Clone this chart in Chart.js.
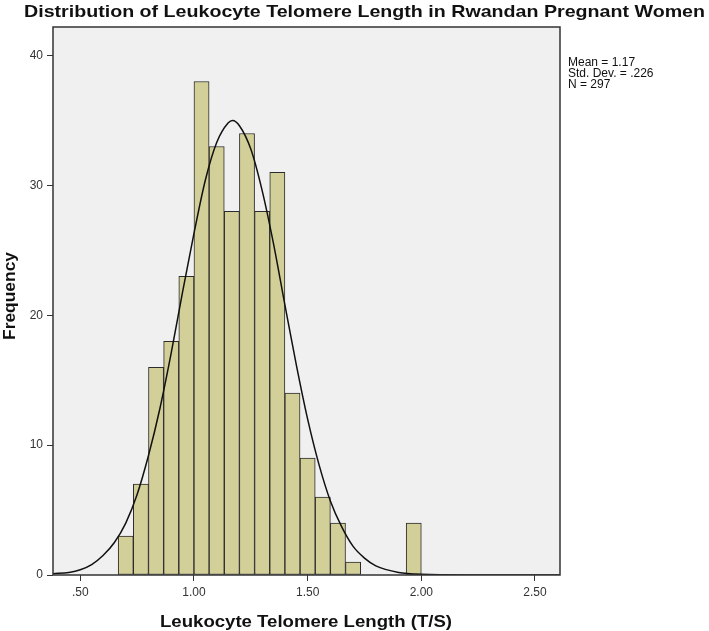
<!DOCTYPE html>
<html>
<head>
<meta charset="utf-8">
<script src="https://cdn.jsdelivr.net/npm/chart.js@4.4.1/dist/chart.umd.min.js"></script>
<style>
  html, body { margin: 0; padding: 0; background: #fff; }
</style>
</head>
<body>
<canvas id="grafik" width="709" height="631"></canvas>
<script>
// histogram bins (width 1/15), given by their centre
var binCenters = [0.7000, 0.7667, 0.8333, 0.9000, 0.9667, 1.0333, 1.1000, 1.1667, 1.2333, 1.3000,
                  1.3667, 1.4333, 1.5000, 1.5667, 1.6333, 1.7000, 1.7667, 1.8333, 1.9000, 1.9667]
var frequency = [3, 7, 16, 18, 23, 38, 33, 28, 34, 28, 31, 14, 9, 6, 4, 1, 0, 0, 0, 4]

// normal curve
var curveX = [0.38, 0.45, 0.50, 0.55, 0.60, 0.65, 0.70, 0.75, 0.80, 0.85, 0.90, 0.95, 1.00, 1.05, 1.10, 1.15, 1.17,
              1.20, 1.25, 1.30, 1.35, 1.40, 1.45, 1.50, 1.55, 1.60, 1.65, 1.70, 1.75, 1.80, 1.90, 2.00, 2.20, 2.61]
var curveY = [0.1, 0.2, 0.4, 0.8, 1.5, 2.5, 4.0, 6.2, 9.2, 12.8, 17.1, 21.8, 26.3, 30.4, 33.3, 34.8, 35.0,
              34.6, 32.8, 29.6, 25.5, 20.8, 16.2, 12.0, 8.5, 5.7, 3.7, 2.2, 1.3, 0.7, 0.2, 0.05, 0, 0]

var xTickValues = [0.5, 1.0, 1.5, 2.0, 2.5]
var xTickLabels = ['.50', '1.00', '1.50', '2.00', '2.50']
var yTickValues = [0, 10, 20, 30, 40]
var statsLines = ['Mean = 1.17', 'Std. Dev. = .226', 'N = 297']

var chartTitle = 'Distribution of Leukocyte Telomere Length in Rwandan Pregnant Women'
var xTitle = 'Leukocyte Telomere Length (T/S)'
var yTitle = 'Frequency'

var FONT = "'Liberation Sans', Arial, sans-serif"
Chart.defaults.font.family = FONT

// the SPSS text is drawn wider than Arial, so stretch it to the width it has there
function fitText(ctx, text, font, x, y, width, angle) {
  ctx.save()
  ctx.font = font
  ctx.fillStyle = '#111'
  ctx.textAlign = 'left'
  ctx.textBaseline = 'alphabetic'
  ctx.translate(x, y)
  ctx.rotate(angle || 0)
  ctx.scale(width / ctx.measureText(text).width, 1)
  ctx.fillText(text, 0, 0)
  ctx.restore()
}

// grey plot area, frame, titles and the stats text
var plotBox = {
  id: 'plotBox',
  beforeDraw: function (chart) {
    var ctx = chart.ctx, a = chart.chartArea
    ctx.save()
    ctx.fillStyle = '#f0f0f0'
    ctx.fillRect(a.left, a.top, a.right - a.left, a.bottom - a.top)
    ctx.restore()
  },
  afterDraw: function (chart) {
    var ctx = chart.ctx, a = chart.chartArea
    ctx.save()
    ctx.strokeStyle = '#333'
    ctx.lineWidth = 1.5
    ctx.strokeRect(a.left, a.top, a.right - a.left, a.bottom - a.top)
    ctx.fillStyle = '#111'
    ctx.font = '12px ' + FONT
    ctx.textBaseline = 'alphabetic'
    for (var i = 0; i < statsLines.length; i++) {
      ctx.fillText(statsLines[i], a.right + 8, 66 + i * 10.8)
    }
    ctx.restore()

    fitText(ctx, chartTitle, 'bold 17px ' + FONT, 24, 17, 681)
    fitText(ctx, xTitle, 'bold 16px ' + FONT, 160, 627, 292)
    fitText(ctx, yTitle, 'bold 16px ' + FONT, 14.5, 340, 88, -Math.PI / 2)
  }
}

var chart = new Chart(document.getElementById('grafik'), {
  type: 'bar',
  data: {
    datasets: [{
      type: 'line',
      data: curveX.map(function (x, i) { return {x: x, y: curveY[i]} }),
      borderColor: '#111',
      borderWidth: 1.5,
      pointRadius: 0,
      cubicInterpolationMode: 'monotone',
      fill: false,
      order: 0
    }, {
      type: 'bar',
      data: binCenters.map(function (x, i) { return {x: x, y: frequency[i]} }),
      backgroundColor: '#d3cf98',
      borderColor: '#2b2b2b',
      borderWidth: 1,
      borderSkipped: false,
      barPercentage: 1,
      categoryPercentage: 1,
      grouped: false,
      order: 1
    }]
  },
  options: {
    responsive: false,
    animation: false,
    layout: { padding: { left: 0, right: 149, top: 27, bottom: 0 } },
    plugins: {
      legend: { display: false },
      tooltip: { enabled: false },
      title: { display: false }
    },
    scales: {
      x: {
        type: 'linear',
        min: 0.38,
        max: 2.61,
        offset: false,
        grid: { display: true, offset: false, drawOnChartArea: false, drawTicks: true, tickLength: 6, color: '#333' },
        border: { display: false },
        afterBuildTicks: function (s) { s.ticks = xTickValues.map(function (v) { return {value: v} }) },
        afterFit: function (s) { s.height = 56 },
        ticks: {
          color: '#333',
          font: { size: 12 },
          padding: 4,
          maxRotation: 0,
          autoSkip: false,
          callback: function (v) { return xTickLabels[xTickValues.indexOf(v)] }
        },
        title: { display: false }
      },
      y: {
        min: 0,
        max: 42.2,
        grid: { display: true, drawOnChartArea: false, drawTicks: true, tickLength: 6, color: '#333' },
        border: { display: false },
        afterBuildTicks: function (s) { s.ticks = yTickValues.map(function (v) { return {value: v} }) },
        afterFit: function (s) { s.width = 53 },
        ticks: { color: '#333', font: { size: 12 }, padding: 4 },
        title: { display: false }
      }
    }
  },
  plugins: [plotBox]
})
</script>
</body>
</html>
